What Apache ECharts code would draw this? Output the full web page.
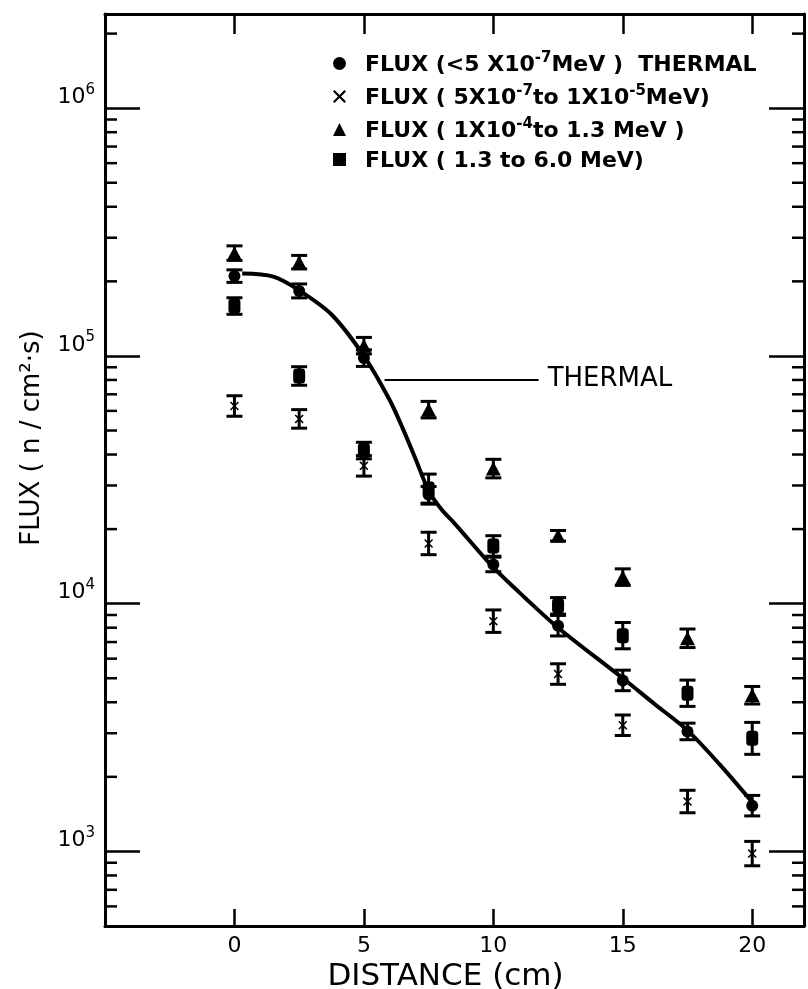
<!DOCTYPE html>
<html><head><meta charset="utf-8">
<script src="https://cdn.jsdelivr.net/npm/echarts@6/dist/echarts.min.js"></script>
<style>html,body{margin:0;padding:0;background:#fff}#c{width:808px;height:989px}</style>
</head><body><div id="c"></div>
<script>
// ---- data ----
const distances = [0, 2.5, 5, 7.5, 10, 12.5, 15, 17.5, 20];
const thermalFlux = [2.10e5, 1.83e5, 9.8e4, 2.75e4, 1.44e4, 8.15e3, 4.9e3, 3.05e3, 1.53e3];
const thermalErr = [1.06, 1.067, 1.08, 1.08, 1.07, 1.10, 1.10, 1.08, 1.10];
const epiFlux = [6.28e4, 5.57e4, 3.6e4, 1.75e4, 8.5e3, 5.2e3, 3.23e3, 1.59e3, 9.8e2];
const epiErr = [1.10, 1.09, 1.10, 1.11, 1.11, 1.10, 1.10, 1.11, 1.12];
const fastFlux = [2.6e5, 2.39e5, 1.1e5, 6.07e4, 3.51e4, 1.88e4, 1.28e4, 7.25e3, 4.27e3];
const fastErr = [1.07, 1.065, 1.08, 1.08, 1.09, 1.05, 1.08, 1.09, 1.085];
const highFlux = [1.59e5, 8.3e4, 4.15e4, 2.9e4, 1.71e4, 9.8e3, 7.43e3, 4.35e3, 2.86e3];
const highErr = [1.08, 1.09, 1.08, 1.15, 1.10, 1.08, 1.13, 1.13, 1.16];
const curveD = [0.3, 1.5, 2.5, 3.75, 5.0, 6.0, 6.5, 7.0, 7.5, 8.0, 8.5, 10.0, 11.25, 12.5, 15.0, 16.25, 17.5, 18.75, 20.0];
const curveV = [2.15e5, 2.09e5, 1.84e5, 1.47e5, 1.0e5, 6.62e4, 5.1e4, 3.83e4, 2.86e4, 2.40e4, 2.11e4, 1.40e4, 1.05e4, 8.0e3, 5.0e3, 3.92e3, 3.08e3, 2.24e3, 1.58e3];
const xTickLabels = [0, 5, 10, 15, 20];
const yDecades = [1e2, 1e3, 1e4, 1e5, 1e6];
const minorMultipliers = [2, 3, 4, 5, 6, 7, 8, 9];
const seriesNames = ['FLUX (<5 X10-7 MeV) THERMAL', 'FLUX (5X10-7 to 1X10-5 MeV)', 'FLUX (1X10-4 to 1.3 MeV)', 'FLUX (1.3 to 6.0 MeV)'];
const legendRich = [
  '{t|FLUX (<5 X10}{s|-7}{t|MeV )  THERMAL}',
  '{t|FLUX ( 5X10}{s|-7}{t|to 1X10}{s|-5}{t|MeV)}',
  '{t|FLUX ( 1X10}{s|-4}{t|to 1.3 MeV )}',
  '{t|FLUX ( 1.3 to 6.0 MeV)}'
];
const annotation = { from: 5.8, to: 11.75, level: 8.05e4, text: 'THERMAL' };

// ---- chart ----
const X_MIN = -5, X_MAX = 22, Y_MIN = 500, Y_MAX = 2.4e6;
const FONT = 'DejaVu Sans';
const BLACK = '#000';

function pts(vals) { return distances.map((d, i) => [d, vals[i]]); }
function errPts(vals, errs) { return distances.map((d, i) => [d, vals[i], vals[i] / errs[i], vals[i] * errs[i]]); }

function errRender(params, api) {
  const x = api.value(0), lo = api.value(2), hi = api.value(3);
  const t = api.coord([x, hi]), b = api.coord([x, lo]);
  const w = 8;
  const st = { stroke: BLACK, lineWidth: 3 };
  return { type: 'group', children: [
    { type: 'line', shape: { x1: t[0], y1: t[1], x2: b[0], y2: b[1] }, style: st },
    { type: 'line', shape: { x1: t[0] - w, y1: t[1], x2: t[0] + w, y2: t[1] }, style: st },
    { type: 'line', shape: { x1: b[0] - w, y1: b[1], x2: b[0] + w, y2: b[1] }, style: st }
  ]};
}

const minorTicks = [];
yDecades.forEach(dec => minorMultipliers.forEach(m => {
  const v = dec * m;
  if (v > Y_MIN && v < Y_MAX) minorTicks.push([X_MIN, v]);
}));

function minorRender(params, api) {
  const v = api.value(1);
  const l = api.coord([X_MIN, v]), r = api.coord([X_MAX, v]);
  const st = { stroke: BLACK, lineWidth: 2.5 };
  return { type: 'group', children: [
    { type: 'line', shape: { x1: l[0], y1: l[1], x2: l[0] + 12, y2: l[1] }, style: st },
    { type: 'line', shape: { x1: r[0] - 12, y1: r[1], x2: r[0], y2: r[1] }, style: st }
  ]};
}

const crossPath = 'path://M0,1.2 L1.2,0 L5,3.8 L8.8,0 L10,1.2 L6.2,5 L10,8.8 L8.8,10 L5,6.2 L1.2,10 L0,8.8 L3.8,5 Z';

const axisLineStyle = { color: BLACK, width: 3 };

function yAxisCfg(pos, withLabels) {
  return {
    type: 'log', logBase: 10, min: Y_MIN, max: Y_MAX, position: pos,
    axisLine: { show: true, onZero: false, lineStyle: axisLineStyle },
    axisTick: { show: true, inside: true, length: 35, lineStyle: { color: BLACK, width: 2.5 } },
    minorTick: { show: false },
    splitLine: { show: false },
    axisLabel: withLabels ? {
      show: true, margin: 10, verticalAlign: 'bottom',
      showMinLabel: false, showMaxLabel: false,
      formatter: v => {
        const e = Math.log10(v);
        if (Math.abs(e - Math.round(e)) > 1e-6) return '';
        return '{b|10}{s|' + Math.round(e) + '}';
      },
      rich: {
        b: { fontFamily: FONT, fontSize: 22, color: BLACK, lineHeight: 26, verticalAlign: 'bottom' },
        s: { fontFamily: FONT, fontSize: 15, color: BLACK, lineHeight: 26, verticalAlign: 'top' }
      }
    } : { show: false },
    name: withLabels ? 'FLUX ( n / cm²·s)' : '',
    nameLocation: 'middle', nameRotate: 90, nameGap: 60,
    nameTextStyle: { fontFamily: FONT, fontSize: 26, color: BLACK, padding: [0, 0, 0, 64] }
  };
}

function xAxisCfg(pos, withLabels) {
  return {
    type: 'value', min: X_MIN, max: X_MAX, interval: 5, position: pos,
    axisLine: { show: true, onZero: false, lineStyle: axisLineStyle },
    axisTick: { show: true, inside: true, length: pos === 'top' ? 20 : 17, lineStyle: { color: BLACK, width: 2.5 } },
    splitLine: { show: false },
    axisLabel: withLabels ? {
      show: true, margin: 9, fontFamily: FONT, fontSize: 22, color: BLACK,
      formatter: v => xTickLabels.indexOf(v) >= 0 ? String(v) : ''
    } : { show: false },
    name: withLabels ? 'DISTANCE (cm)' : '',
    nameLocation: 'middle', nameGap: 32,
    nameTextStyle: { fontFamily: FONT, fontSize: 31, color: BLACK, padding: [0, 18, 0, 0] }
  };
}

const option = {
  animation: false,
  backgroundColor: '#fff',
  grid: { left: 105, right: 4, top: 14, bottom: 63, containLabel: false, outerBoundsMode: 'none' },
  xAxis: [xAxisCfg('bottom', true), xAxisCfg('top', false)],
  yAxis: [yAxisCfg('left', true), yAxisCfg('right', false)],
  legend: {
    orient: 'vertical', left: 328, top: 46, itemWidth: 13, itemHeight: 13, itemGap: 8,
    selectedMode: false,
    textStyle: {
      color: BLACK, fontFamily: FONT, fontWeight: 'bold', fontSize: 22, padding: [0, 0, 0, 14],
      rich: {
        t: { fontFamily: FONT, fontWeight: 'bold', fontSize: 22, color: BLACK, lineHeight: 25, verticalAlign: 'bottom' },
        s: { fontFamily: FONT, fontWeight: 'bold', fontSize: 15, color: BLACK, lineHeight: 25, verticalAlign: 'top' }
      }
    },
    formatter: name => legendRich[seriesNames.indexOf(name)],
    data: [
      { name: seriesNames[0], icon: 'circle' },
      { name: seriesNames[1], icon: crossPath },
      { name: seriesNames[2], icon: 'triangle' },
      { name: seriesNames[3], icon: 'rect' }
    ]
  },
  series: [
    { type: 'custom', name: 'minor', renderItem: minorRender, data: minorTicks, encode: { x: 0, y: 1 }, clip: false, silent: true, z: 1 },
    { type: 'line', name: 'curve', data: curveD.map((d, i) => [d, curveV[i]]), smooth: 0.3, showSymbol: false, symbol: 'none',
      lineStyle: { color: BLACK, width: 4 }, silent: true, z: 2,
      markLine: {
        silent: true, symbol: ['none', 'none'], animation: false,
        lineStyle: { color: BLACK, width: 2, type: 'solid' },
        label: { show: true, position: 'end', distance: 9, formatter: annotation.text, fontFamily: FONT, fontSize: 26, color: BLACK },
        data: [[{ coord: [annotation.from, annotation.level] }, { coord: [annotation.to, annotation.level] }]]
      }
    },
    { type: 'custom', name: 'e0', renderItem: errRender, data: errPts(thermalFlux, thermalErr), encode: { x: 0, y: 1 }, z: 3, silent: true },
    { type: 'custom', name: 'e1', renderItem: errRender, data: errPts(epiFlux, epiErr), encode: { x: 0, y: 1 }, z: 3, silent: true },
    { type: 'custom', name: 'e2', renderItem: errRender, data: errPts(fastFlux, fastErr), encode: { x: 0, y: 1 }, z: 3, silent: true },
    { type: 'custom', name: 'e3', renderItem: errRender, data: errPts(highFlux, highErr), encode: { x: 0, y: 1 }, z: 3, silent: true },
    { type: 'scatter', name: seriesNames[0], data: pts(thermalFlux), symbol: 'circle', symbolSize: 12, itemStyle: { color: BLACK, opacity: 1 }, z: 4 },
    { type: 'scatter', name: seriesNames[1], data: pts(epiFlux), symbol: crossPath, symbolSize: 9, itemStyle: { color: BLACK, opacity: 1 }, z: 4 },
    { type: 'scatter', name: seriesNames[2], data: pts(fastFlux), symbol: 'triangle', symbolSize: [15, 14], itemStyle: { color: BLACK, opacity: 1 }, z: 4 },
    { type: 'scatter', name: seriesNames[3], data: pts(highFlux), symbol: 'roundRect', symbolSize: [12, 15], itemStyle: { color: BLACK, opacity: 1 }, z: 4 }
  ]
};

const chart = echarts.init(document.getElementById('c'), null, { renderer: 'canvas' });
chart.setOption(option);
</script>
</body></html>
